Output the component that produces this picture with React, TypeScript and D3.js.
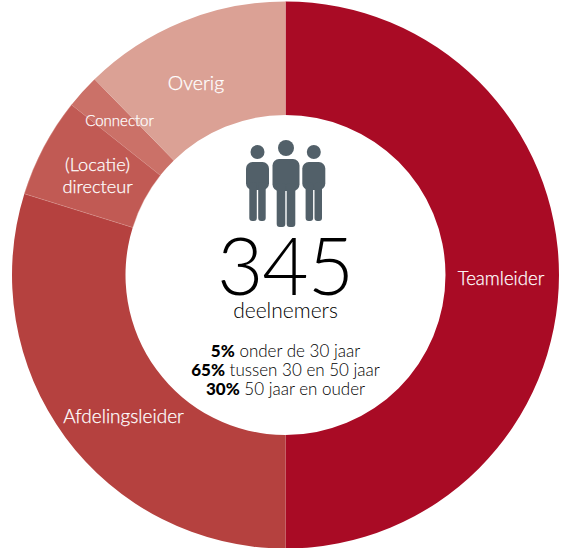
import React from "react";
import * as d3 from "d3";

const roles = ["Teamleider", "Afdelingsleider", "(Locatie) directeur", "Connector", "Overig"];
const shares = [50, 29.8, 5.9, 2, 12.3];
const sliceColors = ["#A90B25", "#B5413F", "#C15A54", "#CB7168", "#DBA195"];
const participants = "345";
const participantsLabel = "deelnemers";
const ageShares = ["5%", "65%", "30%"];
const ageLabels = ["onder de 30 jaar", "tussen 30 en 50 jaar", "50 jaar en ouder"];

const FONT = "Lato, 'Open Sans', sans-serif";
const cx = 285.5;
const cy = 275;
const outerR = 273.5;
const innerR = 160;

// One standing figure of the group icon: head, rounded torso and two legs.
function Person({ x, headY, headR, top, bodyW, bodyB, legW, legB }: {
  x: number; headY: number; headR: number; top: number; bodyW: number; bodyB: number; legW: number; legB: number;
}) {
  const gap = 1.4;
  return (
    <g fill="#526069">
      <circle cx={x} cy={headY} r={headR} />
      <rect x={x - bodyW / 2} y={top} width={bodyW} height={bodyB - top} rx={6.5} />
      <rect x={x - legW - gap / 2} y={bodyB - 8} width={legW} height={legB - bodyB + 8} rx={3} />
      <rect x={x + gap / 2} y={bodyB - 8} width={legW} height={legB - bodyB + 8} rx={3} />
    </g>
  );
}

export default function App() {
  const pie = d3.pie<number>().sort(null).value((d) => d)(shares);
  const arc = d3.arc<d3.PieArcDatum<number>>().innerRadius(innerR).outerRadius(outerR);

  // Light-weight labels get a hairline outline so they stay bright on the tinted slices.
  const white = {
    fill: "#fff",
    stroke: "#fff",
    strokeWidth: 0.25,
    fontFamily: FONT,
    fontWeight: 300,
    textAnchor: "middle" as const,
  };
  const dark = { fontFamily: FONT, textAnchor: "middle" as const, fill: "#000" };

  return (
    <svg
      width={563}
      height={548}
      viewBox="0 0 563 548"
      style={{ position: "absolute", left: 0, top: 0, background: "#fff" }}
    >
      <g transform={`translate(${cx},${cy})`}>
        {pie.map((d, i) => (
          <path
            key={roles[i]}
            d={arc(d) ?? ""}
            fill={sliceColors[i]}
            stroke={i === 2 ? "#DB9C95" : "none"}
            strokeWidth={i === 2 ? 0.4 : 0}
          />
        ))}
      </g>

      <text x={501} y={285} fontSize={18.6} {...white}>{roles[0]}</text>
      <text x={123.5} y={423} fontSize={19} {...white}>{roles[1]}</text>
      <text x={97.5} y={171} fontSize={18.2} {...white}>(Locatie)</text>
      <text x={97.5} y={193} fontSize={18.2} {...white}>directeur</text>
      <text x={119.5} y={126} fontSize={15} {...white}>{roles[3]}</text>
      <text x={196} y={90} fontSize={19.5} {...white}>{roles[4]}</text>

      <Person x={257.5} headY={152} headR={7} top={162} bodyW={23} bodyB={190} legW={7.5} legB={221} />
      <Person x={313.8} headY={152} headR={7} top={162} bodyW={23} bodyB={190} legW={7.5} legB={221} />
      <Person x={286} headY={148} headR={8} top={159} bodyW={27} bodyB={191} legW={8.6} legB={227} />

      <text x={285} y={295} fontSize={80} fontWeight={300} letterSpacing={-1} {...dark}>{participants}</text>
      <text x={285.5} y={318} fontSize={21} fontWeight={300} {...dark}>{participantsLabel}</text>
      {ageShares.map((share, i) => (
        <text key={share} x={285.5} y={356.5 + i * 19} fontSize={17} fontWeight={300} {...dark}>
          <tspan fontWeight={900}>{share}</tspan> {ageLabels[i]}
        </text>
      ))}
    </svg>
  );
}
